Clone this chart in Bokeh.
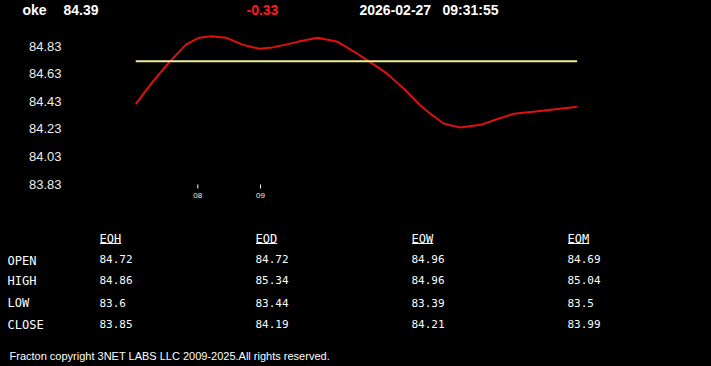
from bokeh.plotting import figure
from bokeh.models import Range1d
from bokeh.embed import file_html
from bokeh.resources import INLINE
from bokeh.core.properties import value

# ---------------- data ----------------
symbol = "oke"
last_price = 84.39
change = -0.33
date_str = "2026-02-27"
time_str = "09:31:55"

hours = [7.01, 7.28, 7.54, 7.81, 8.02, 8.21, 8.45, 8.71, 8.98, 9.19, 9.40, 9.59,
         9.91, 10.23, 10.49, 10.76, 11.02, 11.29, 11.55, 11.71, 11.92, 12.19,
         12.51, 12.77, 13.04, 13.46, 14.05]
prices = [84.41, 84.57, 84.71, 84.84, 84.89, 84.90, 84.89, 84.84, 84.81, 84.82,
          84.84, 84.86, 84.89, 84.86, 84.79, 84.71, 84.63, 84.52, 84.40, 84.34,
          84.27, 84.24, 84.26, 84.30, 84.34, 84.36, 84.39]
open_price = 84.72

y_ticks = [83.83, 84.03, 84.23, 84.43, 84.63, 84.83]
x_ticks = [8, 9]
x_tick_labels = ["08", "09"]

periods = ["EOH", "EOD", "EOW", "EOM"]
row_names = ["OPEN", "HIGH", "LOW", "CLOSE"]
open_vals = [84.72, 84.72, 84.96, 84.69]
high_vals = [84.86, 85.34, 84.96, 85.04]
low_vals = [83.6, 83.44, 83.39, 83.5]
close_vals = [83.85, 84.19, 84.21, 83.99]

footer = "Fracton copyright 3NET LABS LLC 2009-2025.All rights reserved."

# ---------------- layout / style ----------------
W, H = 711, 366
BG = "#000000"
FG = "#ffffff"
RED = "#ff1a1a"
LINE_RED = "#e01010"
YELLOW = "#eeee9a"
SANS = value("Liberation Sans")
MONO = value("DejaVu Sans Mono")

# chart placement on the page (pixels)
ANCHOR_HOUR, ANCHOR_X, PX_PER_HOUR = 8, 197.3, 62.7
ANCHOR_PRICE, ANCHOR_Y, PX_PER_UNIT = 84.83, 45.5, 138.3
AXIS_Y = 184
YLAB_RIGHT = 61

p = figure(width=W, height=H, x_range=Range1d(0, W), y_range=Range1d(H, 0),
           x_axis_type=None, y_axis_type=None, toolbar_location=None,
           output_backend="svg", min_border=0,
           background_fill_color=BG, border_fill_color=BG, outline_line_color=None)
p.grid.visible = False

# scales for the price chart, mapped onto the page area
p.extra_x_ranges = {"hours": Range1d(ANCHOR_HOUR - ANCHOR_X / PX_PER_HOUR,
                                     ANCHOR_HOUR + (W - ANCHOR_X) / PX_PER_HOUR)}
p.extra_y_ranges = {"price": Range1d(ANCHOR_PRICE - (H - ANCHOR_Y) / PX_PER_UNIT,
                                     ANCHOR_PRICE + ANCHOR_Y / PX_PER_UNIT)}

# lines
p.line(hours, prices, line_color=LINE_RED, line_width=2, line_join="round",
       x_range_name="hours", y_range_name="price")
p.line([hours[0], hours[-1]], [open_price, open_price], line_color=YELLOW, line_width=2,
       x_range_name="hours", y_range_name="price")

# y axis labels
p.text(x=[YLAB_RIGHT] * len(y_ticks), y=y_ticks, text=[f"{t:.2f}" for t in y_ticks],
       y_range_name="price", text_color="#eeeeee", text_font=SANS, text_font_size="13px",
       text_align="right", text_baseline="middle")

# x axis ticks + labels
p.segment(x0=x_ticks, x1=x_ticks, y0=[AXIS_Y] * len(x_ticks), y1=[AXIS_Y + 4] * len(x_ticks),
          x_range_name="hours", line_color=FG, line_width=1)
p.text(x=x_ticks, y=[AXIS_Y + 11] * len(x_ticks), text=x_tick_labels, x_range_name="hours",
       text_color="#eeeeee", text_font=SANS, text_font_size="8px",
       text_align="center", text_baseline="middle")

# header
head_x = [22, 63, 246, 359, 442]
head_text = [symbol, f"{last_price:.2f}", f"{change:.2f}", date_str, time_str]
head_col = [FG, FG, RED if change < 0 else FG, FG, FG]
p.text(x=head_x, y=[9.5] * 5, text=head_text, text_color=head_col,
       text_font=SANS, text_font_style="bold", text_font_size="14px",
       text_baseline="middle", text_align="left")

# table
col_x = [99, 255, 411, 567]
head_mid = 238
underline_y = 243
label_mid = [260, 280.5, 302.8, 324.5]
val_mid = [258, 279.7, 302, 323.7]
char_w = 12 * 0.602

p.text(x=col_x, y=[head_mid] * 4, text=periods, text_color=FG, text_font=MONO,
       text_font_size="12px", text_baseline="middle")
p.segment(x0=[x + 0.5 for x in col_x], x1=[x + len(s) * char_w for x, s in zip(col_x, periods)],
          y0=[underline_y] * 4, y1=[underline_y] * 4, line_color=FG, line_width=1)
p.text(x=[7] * 4, y=label_mid, text=row_names, text_color=FG, text_font=MONO,
       text_font_size="12px", text_baseline="middle")

rows = [open_vals, high_vals, low_vals, close_vals]
vx, vy, vt = [], [], []
for r, vals in enumerate(rows):
    for c, v in enumerate(vals):
        vx.append(col_x[c])
        vy.append(val_mid[r])
        vt.append(str(v))
p.text(x=vx, y=vy, text=vt, text_color=FG, text_font=MONO, text_font_size="11px",
       text_baseline="middle")

# footer
p.text(x=[9], y=[355.3], text=[footer], text_color=FG, text_font=SANS,
       text_font_size="11px", text_baseline="middle")

html = file_html(p, INLINE)
html = html.replace("</head>",
                    "<style>html,body{margin:0;padding:0;background-color:#000000;overflow:hidden;}</style></head>", 1)
open("out.html", "w").write(html)
